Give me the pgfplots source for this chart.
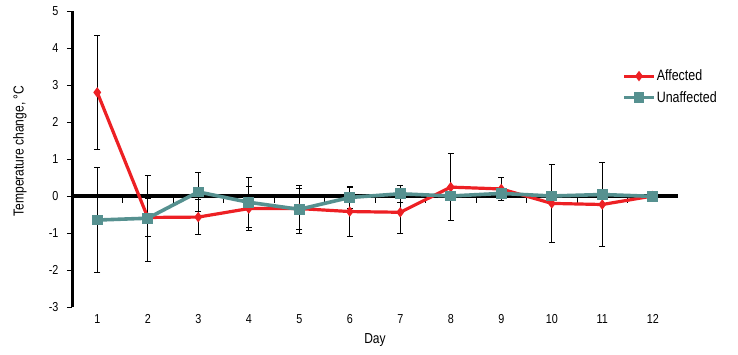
\documentclass[border=0pt]{standalone}
\usepackage{fontspec}
\setmainfont{Liberation Sans}[FakeStretch=0.83]
\usepackage{pgfplots}
\pgfplotsset{compat=1.18}
\usepackage{pgfplotstable}
\definecolor{affred}{RGB}{237,32,36}
\definecolor{unteal}{RGB}{86,145,144}
\pgfplotstableread{
x y e
1 2.80 1.53
2 -0.58 0.52
3 -0.57 0.47
4 -0.34 0.60
5 -0.34 0.55
6 -0.42 0.66
7 -0.44 0.58
8 0.24 0.90
9 0.19 0.31
10 -0.20 1.05
11 -0.23 1.13
12 0.00 0.00
}\affected
\pgfplotstableread{
x y e
1 -0.65 1.42
2 -0.60 1.17
3 0.11 0.52
4 -0.17 0.67
5 -0.36 0.65
6 -0.04 0.30
7 0.06 0.22
8 0.00 0.13
9 0.07 0.00
10 0.00 0.00
11 0.04 0.00
12 -0.01 0.00
}\unaffected
\begin{document}
\begin{tikzpicture}[x=1pt,y=1pt]
\useasboundingbox (0,0) rectangle (738,354);
\begin{axis}[
  at={(72pt,47pt)}, anchor=south west,
  scale only axis, width=606pt, height=296pt,
  xmin=0.5, xmax=12.5, ymin=-3, ymax=5,
  clip=false,
  axis y line*=left, axis x line*=bottom,
  x axis line style={draw=none},
  y axis line style={line width=3pt, line cap=butt},
  xtick={1,...,12}, ytick={-3,...,5},
  x tick style={draw=none},
  y tick style={black, line width=0.6pt},
  tick align=outside, major tick length=5pt,
  /pgf/number format/assume math mode=true,
  tick label style={font=\fontsize{13}{15}\selectfont},
  xticklabel style={yshift=1pt},
  yticklabel style={xshift=-5pt},
  label style={font=\fontsize{14.5}{17}\selectfont},
  xlabel={Day},
  xlabel style={at={(axis description cs:0.5,-0.112)}, anchor=center},
  ylabel={Temperature change, °C},
  ylabel style={at={(axis description cs:-0.086,0.527)}, anchor=center},
  legend style={at={(axis description cs:0.9076,0.805)}, anchor=north west,
    draw=none, fill=none, font=\fontsize{15}{18}\selectfont, row sep=7pt,
    inner sep=0pt, nodes={inner sep=1pt}},
  legend cell align=left,
  legend image code/.code={\draw[mark repeat=2,mark phase=2,#1] plot coordinates {(0pt,0pt) (15pt,0pt) (30pt,0pt)};},
  error bars/error bar style={black, line width=0.8pt},
  error bars/error mark options={black, line width=0.8pt, mark size=3pt, rotate=90},
]
\draw[line width=3.5pt] (axis cs:0.5,0) -- (axis cs:12.5,0);
\pgfplotsinvokeforeach{1.5,2.5,...,11.5}{\draw[line width=0.7pt] (axis cs:#1,0) -- ([yshift=-7pt]axis cs:#1,0);}
\addplot[affred, line width=3.2pt, mark=diamond*, mark size=2.6pt,
  error bars/.cd, y dir=both, y explicit]
  table[x=x, y=y, y error=e] {\affected};
\addlegendentry{Affected}
\addplot[unteal, line width=3.6pt, mark=square*, mark size=3.5pt,
  error bars/.cd, y dir=both, y explicit]
  table[x=x, y=y, y error=e] {\unaffected};
\addlegendentry{Unaffected}
\end{axis}
\end{tikzpicture}
\end{document}
